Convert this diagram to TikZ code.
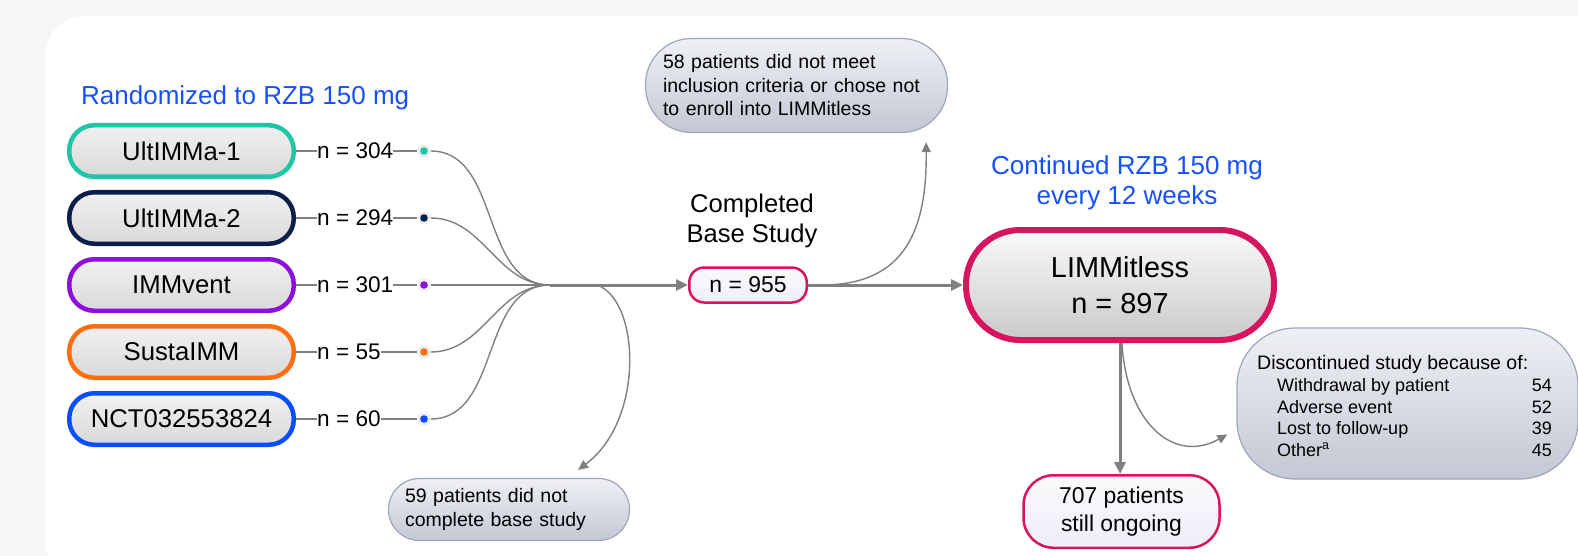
\documentclass[tikz,border=0pt]{standalone}
\usepackage{fontspec}
\setmainfont{Liberation Sans}
\usetikzlibrary{arrows.meta,calc}
\newcommand\myfs[2]{\fontsize{#1}{#2}\selectfont}
\definecolor{bgout}{HTML}{F5F6F8}
\definecolor{cteal}{HTML}{1DC6A6}
\definecolor{cnavy}{HTML}{0B1F4D}
\definecolor{cpurple}{HTML}{8C0FDC}
\definecolor{corange}{HTML}{FF6E0F}
\definecolor{cblue}{HTML}{0A4DFF}
\definecolor{crim}{HTML}{D8145F}
\definecolor{cgray}{HTML}{808080}
\definecolor{tblue}{HTML}{1650FF}
\definecolor{callborder}{HTML}{9EA6BA}
\definecolor{calltop}{HTML}{EEF0F5}
\definecolor{callbot}{HTML}{C4C8D4}
\definecolor{boxfill}{HTML}{F1F1F1}
\tikzset{
  studybox/.style={draw=#1, line width=4.5pt, rectangle, rounded corners=25pt,
    minimum width=224.5pt, minimum height=51.5pt, inner sep=0pt,
    top color=boxfill, middle color=boxfill, bottom color=gray!30,
    shading angle=0,
    font=\myfs{25.7}{30}},
  nlab/.style={anchor=west, inner sep=0pt, font=\myfs{22.6}{26}},
  dotring/.style={circle, fill=gray!14, minimum size=13pt, inner sep=0pt},
  thinflow/.style={draw=cgray, line width=1.4pt},
  thinarrow/.style={draw=cgray, line width=1.4pt, -{Triangle[length=10pt,width=9pt]}},
  thickarrow/.style={draw=cgray, line width=3pt, -{Triangle[length=12pt,width=11pt]}},
  callout/.style={draw=callborder, line width=1.2pt, rectangle, inner sep=0pt,
    top color=calltop, bottom color=callbot},
  crimbox/.style={draw=crim, rectangle, inner sep=0pt,
    top color=gray!4, bottom color=#1},
}
\begin{document}
\begin{tikzpicture}[x=1pt,y=-1pt]
\useasboundingbox (0,0) rectangle (1578,556);
\fill[bgout] (0,0) rectangle (1578,556);
\fill[white, rounded corners=40pt] (45,16) rectangle (1620,580);

% title
\node[anchor=base west, inner sep=0pt, text=tblue, font=\myfs{26}{30}] (title) at (81,104.5) {Randomized to RZB 150 mg};

% study boxes
\node[studybox=cteal] (s1) at (181.5,151) {UltIMMa-1};
\node[studybox=cnavy] (s2) at (181.5,218) {UltIMMa-2};
\node[studybox=cpurple] (s3) at (181.5,285) {IMMvent};
\node[studybox=corange] (s4) at (181.5,352) {SustaIMM};
\node[studybox=cblue] (s5) at (181.5,419) {NCT032553824};

% n labels
\node[nlab] (l1) at (317,151) {n = 304};
\node[nlab] (l2) at (317,218) {n = 294};
\node[nlab] (l3) at (317,285) {n = 301};
\node[nlab] (l4) at (317,352) {n = 55};
\node[nlab] (l5) at (317,419) {n = 60};

% dots
\node[dotring] (d1) at (424,151) {};
\node[dotring] (d2) at (424,218) {};
\node[dotring] (d3) at (424,285) {};
\node[dotring] (d4) at (424,352) {};
\node[dotring] (d5) at (424,419) {};
\fill[cteal] (d1) circle (3.8);
\fill[cnavy] (d2) circle (3.8);
\fill[cpurple] (d3) circle (3.8);
\fill[corange] (d4) circle (3.8);
\fill[cblue] (d5) circle (3.8);

\foreach \i in {1,...,5}{
  \draw[thinflow] (s\i.east) -- (l\i.west);
  \draw[thinflow] (l\i.east) -- (d\i.west);
}

\coordinate (conv) at (550,285);
\coordinate (split1) at (597,285);
\draw[thinflow] (d1.east) to[out=0,in=180] (conv);
\draw[thinflow] (d2.east) to[out=0,in=180] (conv);
\draw[thinflow] (d3.east) -- (conv);
\draw[thinflow] (d4.east) to[out=0,in=180] (conv);
\draw[thinflow] (d5.east) to[out=0,in=180] (conv);

% completed base study
\node[align=center, inner sep=0pt, font=\myfs{25.6}{30}] (cbs) at (752,221) {Completed\\Base Study};
\node[crimbox=gray!32!blue!8!white, line width=2.5pt, rounded corners=15pt,
  minimum width=117.5pt, minimum height=35pt, font=\myfs{22.9}{26}] (n955) at (748,285) {n = 955};

\draw[thickarrow] (conv) -- (n955.west);

% callout 58
\node[callout, rounded corners=46pt, minimum width=302pt, minimum height=94pt,
  text width=267pt, align=left, font=\myfs{19.5}{23.5}] (c58) at (796.5,85.5)
  {58 patients did not meet\\inclusion criteria or chose not\\to enroll into LIMMitless};

% callout 59
\node[callout, rounded corners=31pt, minimum width=241pt, minimum height=62pt,
  text width=208pt, align=left, font=\myfs{19.5}{24}] (c59) at (509,509.5)
  {59 patients did not\\complete base study};

\draw[thinarrow] (split1) .. controls (640,300) and (645,420) .. ([xshift=69pt,yshift=8pt]c59.north);

% continued
\node[align=center, inner sep=0pt, text=tblue, font=\myfs{26}{30}] (cont) at (1127,183) {Continued RZB 150 mg\\every 12 weeks};

\node[crimbox=gray!42, line width=6pt, rounded corners=54pt,
  minimum width=308pt, minimum height=110pt, align=center, font=\myfs{28.9}{36}] (lim) at (1120,285) {LIMMitless\\n = 897};

\draw[thinarrow] ([xshift=14pt]n955.east) .. controls (905,285) and (927,230) .. ([xshift=-22pt,yshift=-9pt]c58.south east);
\draw[thickarrow] (n955.east) -- (lim.west);

% 707
\node[crimbox=gray!32!blue!8!white, line width=2.5pt, rounded corners=30pt,
  minimum width=196pt, minimum height=72.5pt, align=center, font=\myfs{22.9}{28}] (n707) at (1121.5,511.5) {707 patients\\still ongoing};

\draw[thickarrow] (lim.south) -- (lim.south |- n707.north);

% discontinued
\node[callout, rounded corners=58pt, minimum width=341pt, minimum height=151pt] (disc) at (1407.5,403.5) {};
\draw[thinarrow] ([xshift=2pt]lim.south) .. controls (1126,420) and (1172,465) .. ($(disc.west)+(-9,31)$);

\node[anchor=base west, inner sep=0pt, font=\myfs{19.5}{23}] (dh) at (1257,369) {Discontinued study because of:};
\node[anchor=base west, inner sep=0pt, font=\myfs{18}{22}] (r1) at (1277,391.5) {Withdrawal by patient};
\node[anchor=base west, inner sep=0pt, font=\myfs{18}{22}] (r2) at (1277,413) {Adverse event};
\node[anchor=base west, inner sep=0pt, font=\myfs{18}{22}] (r3) at (1277,434.5) {Lost to follow-up};
\node[anchor=base west, inner sep=0pt, font=\myfs{18}{22}] (r4) at (1277,456) {Other\textsuperscript{a}};
\node[anchor=base east, inner sep=0pt, font=\myfs{18}{22}] (v1) at (1552,391.5) {54};
\node[anchor=base east, inner sep=0pt, font=\myfs{18}{22}] (v2) at (1552,413) {52};
\node[anchor=base east, inner sep=0pt, font=\myfs{18}{22}] (v3) at (1552,434.5) {39};
\node[anchor=base east, inner sep=0pt, font=\myfs{18}{22}] (v4) at (1552,456) {45};
\end{tikzpicture}
\end{document}
